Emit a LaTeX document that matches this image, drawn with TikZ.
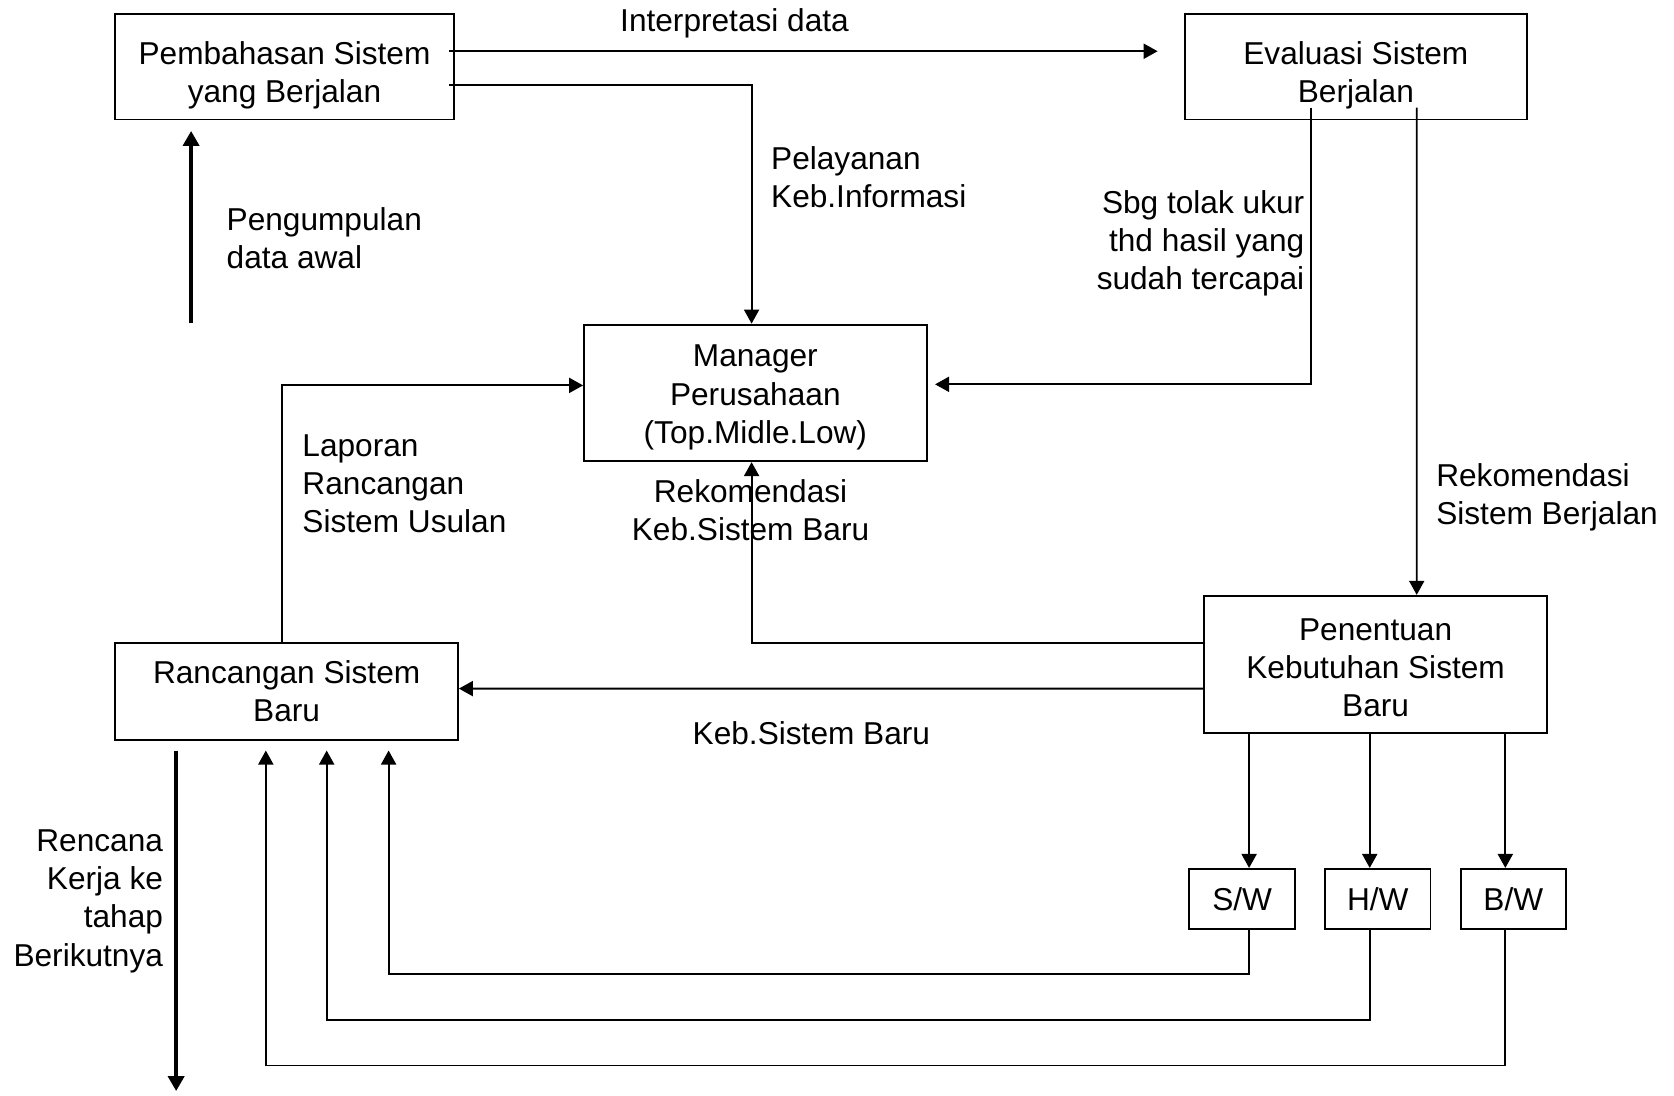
\documentclass[tikz,border=0pt]{standalone}
\usepackage{fontspec}
\setmainfont{Liberation Sans}
\usetikzlibrary{arrows.meta,calc,positioning}

\begin{document}
\begin{tikzpicture}[x=0.21352mm, y=-0.21352mm,
    every node/.style={font=\fontsize{18}{21.8}\selectfont},
    box/.style={draw, line width=1.1pt, align=center, inner sep=0pt},
    lbl/.style={inner sep=0pt},
    flow/.style={line width=1.1pt, -{Triangle[length=2.8mm,width=3mm]}},
    bigflow/.style={line width=2.4pt, -{Triangle[length=3mm,width=3.2mm]}}]
      \useasboundingbox (0,0) rectangle (1568,1026);
      % Boxes
      \node[box, minimum width=67.7mm, minimum height=21.1mm] (pemb) at (266.5,62.5) {\rule{0pt}{8mm}Pembahasan Sistem\\yang Berjalan};
      \node[box, minimum width=68.3mm, minimum height=21.1mm] (eval) at (1270,62.5) {\rule{0pt}{8mm}Evaluasi Sistem\\Berjalan};
      \node[box, minimum width=68.5mm, minimum height=27.3mm] (mgr) at (707.5,368) {\rule{0pt}{6.2mm}Manager\\Perusahaan\\(Top.Midle.Low)};
      \node[box, minimum width=68.5mm, minimum height=19.4mm] (ranc) at (268.5,647.5) {Rancangan Sistem\\Baru};
      \node[box, minimum width=68.5mm, minimum height=27.5mm] (pen) at (1288.5,622.5) {\rule{0pt}{5.6mm}Penentuan\\Kebutuhan Sistem\\Baru};
      \node[box, minimum width=21.1mm, minimum height=12mm] (sw) at (1163.5,842) {S/W};
      \node[box, minimum width=21.1mm, minimum height=12mm] (hw) at (1290.5,842) {H/W};
      \node[box, minimum width=21.1mm, minimum height=12mm] (bw) at (1417.5,842) {B/W};
      % Define coordinates
      \coordinate (datain) at (179,303);
      \coordinate (outR) at (165,703);
      \coordinate (colS) at (1170,687);
      \coordinate (colH) at (1283,687);
      \coordinate (colB) at (1410,687);
      \coordinate (inS) at (364,703);
      \coordinate (inH) at (306,703);
      \coordinate (inB) at (249,703);
      % Top row
      \draw[flow, shorten >=5.3mm] ($(pemb.east)+(-5,-14.5)$) -- ($(eval.west)+(0,-14.5)$);
      \draw[flow] ($(pemb.east)+(-5,17.5)$) -| ($(mgr.north)+(-3.5,0)$);
      \draw[bigflow, shorten >=2.1mm] (datain) -- (datain |- pemb.south);
      % From Evaluasi
      \draw[flow, shorten >=1.5mm] ($(eval.south)+(-42,-12)$) |- ($(mgr.east)+(0,-8)$);
      \draw[flow] ($(eval.south)+(57,-12)$) -- ($(pen.north)+(38.5,0)$);
      % Into Manager and Rancangan
      \draw[flow] ($(pen.west)+(0,-20.5)$) -| ($(mgr.south)+(-3.5,0)$);
      \draw[flow] ($(ranc.north)+(-4.5,0)$) |- ($(mgr.west)+(0,-7)$);
      \draw[flow] ($(pen.west)+(0,22.5)$) -- ($(ranc.east)+(0,-2.5)$);
      % S/W, H/W, B/W
      \draw[flow] (colS) -- (colS |- sw.north);
      \draw[flow] (colH) -- (colH |- hw.north);
      \draw[flow] (colB) -- (colB |- bw.north);
      \draw[flow] (colS |- sw.south) -- ++(0,41) -| (inS);
      \draw[flow] (colH |- hw.south) -- ++(0,84) -| (inH);
      \draw[flow] (colB |- bw.south) -- ++(0,127) -| (inB);
      \draw[bigflow] (outR) -- ++(0,319);
      % Labels
      \node[lbl] (lblInt) at (688,22) {Interpretasi data};
      \node[lbl, anchor=west, align=left] (lblPel) at (722,166) {Pelayanan\\Keb.Informasi};
      \node[lbl, anchor=west, align=left] (lblPeng) at (212,223) {Pengumpulan\\data awal};
      \node[lbl, anchor=east, align=right] (lblSbg) at (1222,228) {Sbg tolak ukur\\thd hasil yang\\sudah tercapai};
      \node[lbl, anchor=west, align=left] (lblRekS) at (1345,466) {Rekomendasi\\Sistem Berjalan};
      \node[lbl, anchor=west, align=left] (lblLap) at (283,453) {Laporan\\Rancangan\\Sistem Usulan};
      \node[lbl, align=center] (lblRekK) at (703,478) {Rekomendasi\\Keb.Sistem Baru};
      \node[lbl] (lblKeb) at (760,687) {Keb.Sistem Baru};
      \node[lbl, anchor=east, align=right] (lblRenc) at (153,844) {Rencana\\Kerja ke\\tahap\\Berikutnya};
\end{tikzpicture}
\end{document}
